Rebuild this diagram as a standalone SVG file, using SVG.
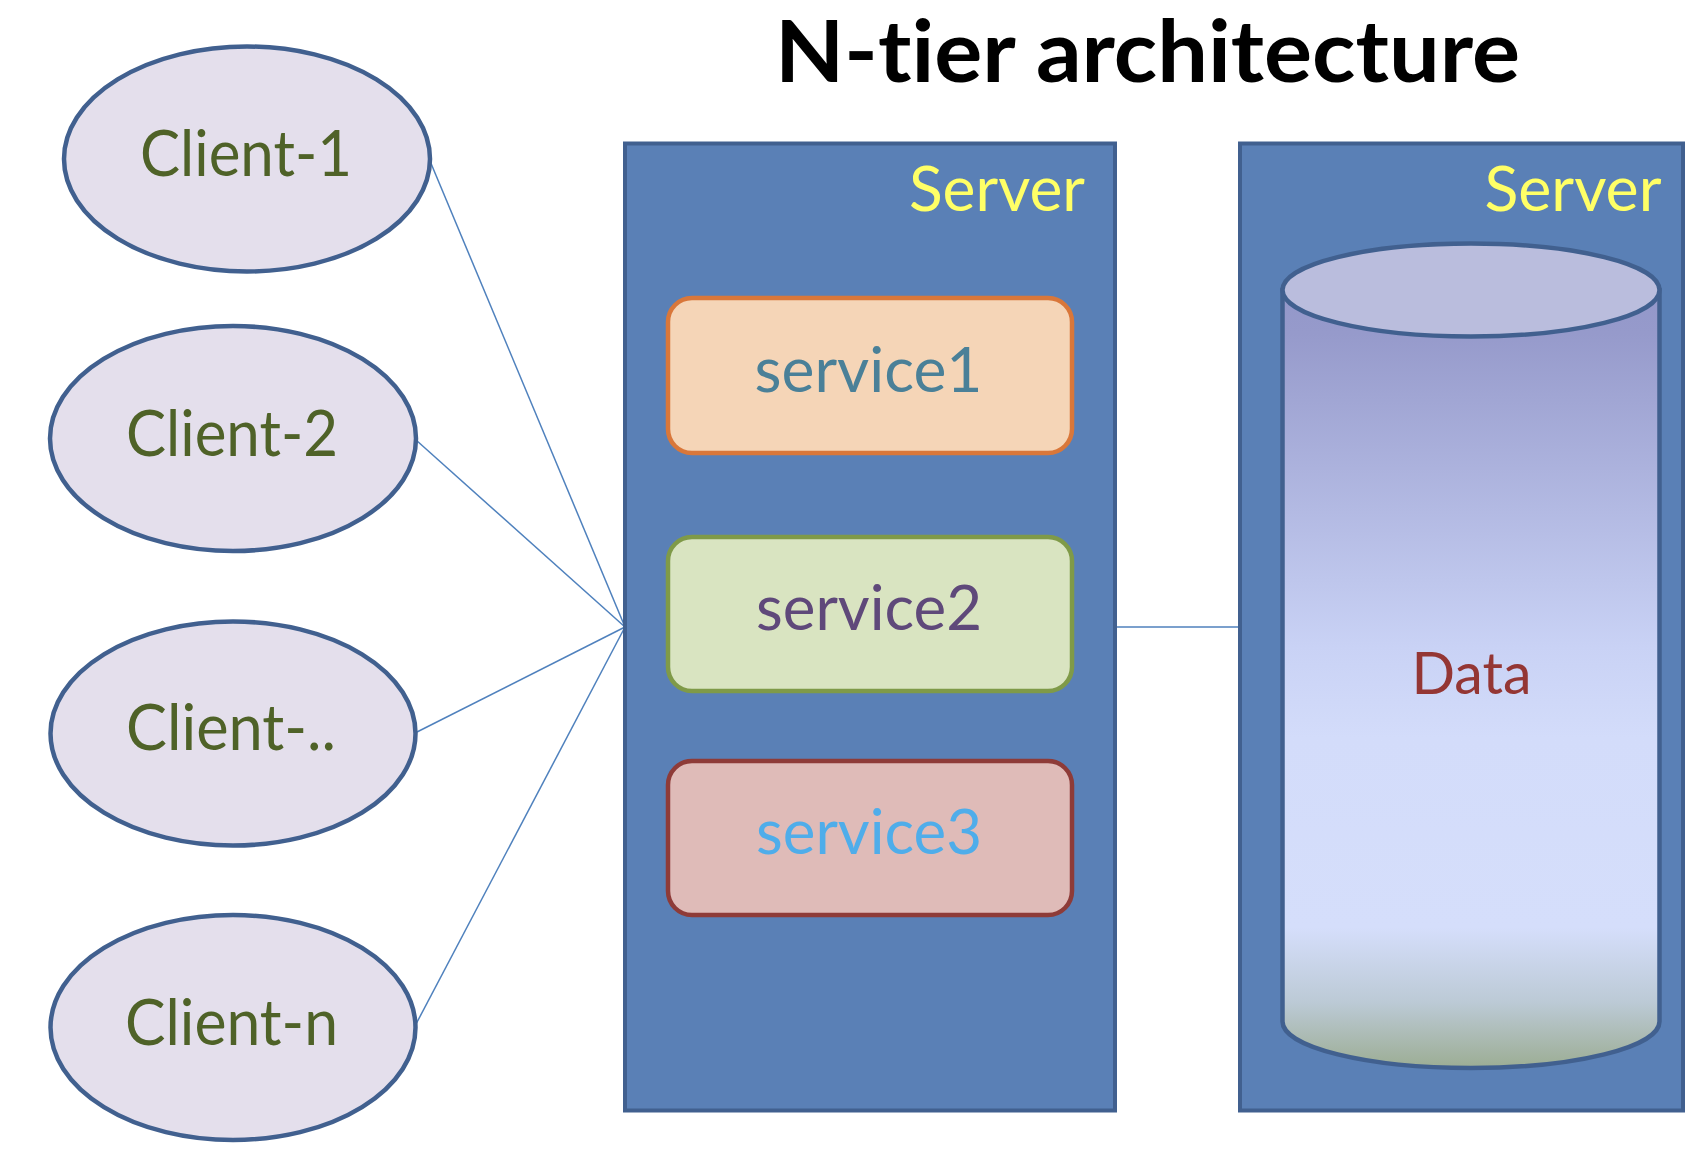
<svg xmlns="http://www.w3.org/2000/svg" width="1690" height="1170" viewBox="0 0 1690 1170">
  <style>
    text { font-variant-ligatures: none; font-feature-settings: "liga" 0, "clig" 0; }
    .client ellipse { fill: #E4DFEC; stroke: #41608F; stroke-width: 4.5; }
    .client text { font-family: Lato, "Liberation Sans", sans-serif; font-size: 64px; fill: #4F6228; text-anchor: middle; }
    .server rect { fill: #5A80B6; stroke: #41608F; stroke-width: 4; }
    .server text { font-family: Lato, "Liberation Sans", sans-serif; font-size: 61px; fill: #FFFF66; text-anchor: middle; }
    .svc text { font-family: Lato, "Liberation Sans", sans-serif; font-size: 62px; text-anchor: middle; }
    .svc rect { stroke-width: 4.5; }
    .title { font-family: Lato, "Liberation Sans", sans-serif; font-weight: 700; font-size: 87px; fill: #000000; text-anchor: middle; }
    .conn line { stroke: #4F81BD; stroke-width: 1.5; fill: none; }
    .db path, .db ellipse { stroke: #41608F; stroke-width: 4.5; }
    .db text { font-family: Lato, "Liberation Sans", sans-serif; font-size: 58px; fill: #943634; text-anchor: middle; }
  </style>
  <defs>
    <linearGradient id="dbBody" gradientUnits="userSpaceOnUse" x1="0" y1="243" x2="0" y2="1068">
      <stop offset="0" stop-color="#9095C8"/>
      <stop offset="0.11" stop-color="#969ACB"/>
      <stop offset="0.49" stop-color="#C9D2F5"/>
      <stop offset="0.6" stop-color="#D3DCFA"/>
      <stop offset="0.83" stop-color="#D5DEFB"/>
      <stop offset="0.92" stop-color="#BCCAD6"/>
      <stop offset="1" stop-color="#9CAD94"/>
    </linearGradient>
  </defs>

  <rect width="1690" height="1170" fill="#FFFFFF"/>

  <text id="title" class="title" x="1147.5" y="82" textLength="745" lengthAdjust="spacingAndGlyphs">N-tier architecture</text>

  <g id="connectors" class="conn">
    <line x1="430" y1="161" x2="625" y2="627"/>
    <line x1="416" y1="440" x2="625" y2="627"/>
    <line x1="415" y1="733" x2="625" y2="627"/>
    <line x1="415" y1="1026" x2="625" y2="627"/>
    <line x1="1115" y1="627" x2="1240" y2="627"/>
  </g>

  <g id="client-1" class="client">
    <ellipse cx="247" cy="159" rx="183" ry="112.5"/>
    <text x="246" y="176" textLength="212" lengthAdjust="spacingAndGlyphs">Client-1</text>
  </g>
  <g id="client-2" class="client">
    <ellipse cx="233" cy="438.5" rx="183" ry="112.5"/>
    <text x="232" y="455.5" textLength="212" lengthAdjust="spacingAndGlyphs">Client-2</text>
  </g>
  <g id="client-dots" class="client">
    <ellipse cx="233" cy="733.5" rx="182.5" ry="112"/>
    <text x="231" y="749.5" textLength="210" lengthAdjust="spacingAndGlyphs">Client-..</text>
  </g>
  <g id="client-n" class="client">
    <ellipse cx="233" cy="1027.5" rx="182.5" ry="112.5"/>
    <text x="231.5" y="1044.5" textLength="213" lengthAdjust="spacingAndGlyphs">Client-n</text>
  </g>

  <g id="server-1" class="server">
    <rect x="625" y="143.5" width="490" height="967"/>
    <text x="997" y="211" textLength="176" lengthAdjust="spacingAndGlyphs">Server</text>
  </g>
  <g id="server-2" class="server">
    <rect x="1240" y="143.5" width="443" height="967"/>
    <text x="1573" y="211" textLength="177" lengthAdjust="spacingAndGlyphs">Server</text>
  </g>

  <g id="service1" class="svc">
    <rect x="668" y="298" width="404" height="155" rx="24" ry="24" fill="#F5D5B7" stroke="#D9773A"/>
    <text x="868.5" y="392" fill="#4A8098" textLength="228" lengthAdjust="spacingAndGlyphs">service1</text>
  </g>
  <g id="service2" class="svc">
    <rect x="668" y="537" width="404" height="154" rx="24" ry="24" fill="#D9E4C1" stroke="#7F9A48"/>
    <text x="869" y="630" fill="#5F497A" textLength="226" lengthAdjust="spacingAndGlyphs">service2</text>
  </g>
  <g id="service3" class="svc">
    <rect x="668" y="761" width="404" height="154" rx="24" ry="24" fill="#DFBBB8" stroke="#8E3B38"/>
    <text x="869" y="854" fill="#4FADEA" textLength="226" lengthAdjust="spacingAndGlyphs">service3</text>
  </g>

  <g id="data" class="db">
    <path d="M1282.5,290 L1282.5,1021.5 A188.5,46.5 0 0 0 1659.5,1021.5 L1659.5,290 Z" fill="url(#dbBody)"/>
    <ellipse cx="1471" cy="290" rx="188.5" ry="46.5" fill="#BABDDD"/>
    <text x="1471.5" y="693.5" textLength="120" lengthAdjust="spacingAndGlyphs">Data</text>
  </g>
</svg>
